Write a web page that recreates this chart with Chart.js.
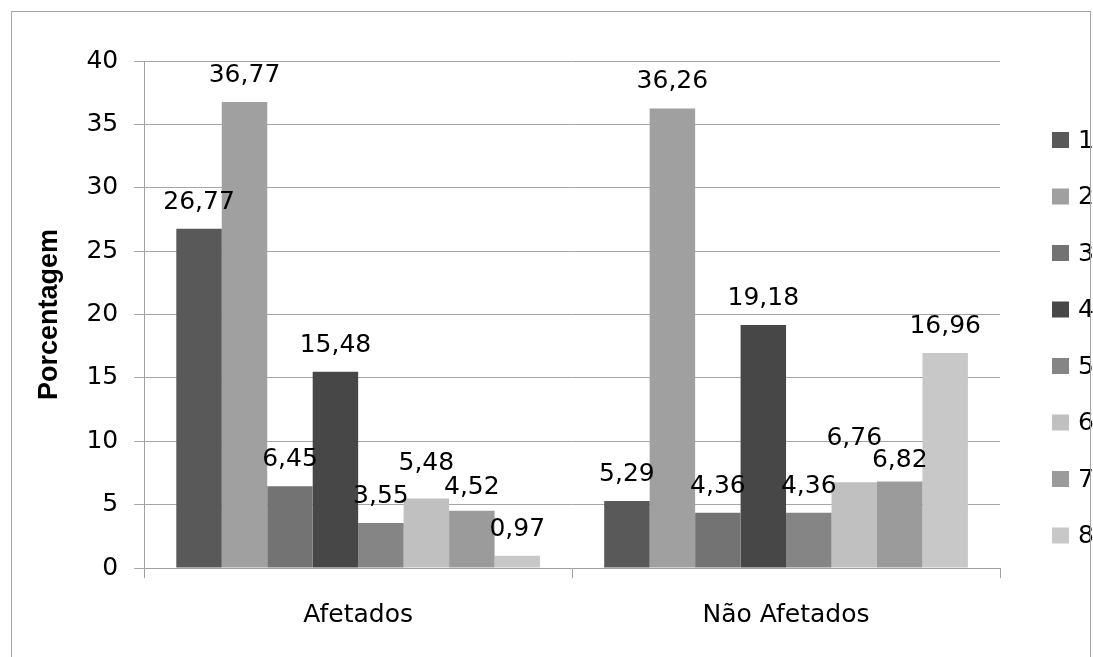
<!DOCTYPE html>
<html>
<head>
<meta charset="utf-8">
<title>Porcentagem por grupo</title>
<script src="https://cdn.jsdelivr.net/npm/chart.js@4.4.1/dist/chart.umd.min.js"></script>
<style>
  html, body { margin: 0; padding: 0; background: #fff; overflow: hidden; }
  #wrap { position: absolute; left: 0; top: 0; width: 1093px; height: 657px; }
  #frame { position: absolute; left: 11px; top: 11px; width: 1078px; height: 700px;
           border: 1px solid #a6a6a6; pointer-events: none; }
</style>
</head>
<body>
<div id="wrap"><canvas id="grafico" width="1093" height="657"></canvas></div>
<div id="frame"></div>
<script>
const grupos = ['Afetados', 'Não Afetados'];
const nomesSeries = ['1', '2', '3', '4', '5', '6', '7', '8'];

const serie1 = [26.77, 5.29];
const serie2 = [36.77, 36.26];
const serie3 = [6.45, 4.36];
const serie4 = [15.48, 19.18];
const serie5 = [3.55, 4.36];
const serie6 = [5.48, 6.76];
const serie7 = [4.52, 6.82];
const serie8 = [0.97, 16.96];

const yMin = 0;
const yMax = 40;
const yPasso = 5;

const cores = ['#595959', '#a0a0a0', '#737373', '#474747', '#858585', '#c0c0c0', '#9b9b9b', '#c8c8c8'];
const valores = [serie1, serie2, serie3, serie4, serie5, serie6, serie7, serie8];

const fonte = '"DejaVu Sans", Verdana, sans-serif';
Chart.defaults.font.family = fonte;
Chart.defaults.color = '#000';

// rótulos de valor acima de cada barra, com vírgula decimal;
// quando dois vizinhos se sobrepõem, o da esquerda sobe e o da direita desce
const rotulosValor = {
  id: 'rotulosValor',
  afterDatasetsDraw(chart) {
    const ctx = chart.ctx;
    const altura = 20, folga = 4, distancia = 20;
    ctx.save();
    ctx.font = '25px ' + fonte;
    ctx.fillStyle = '#000';
    ctx.textAlign = 'center';
    ctx.textBaseline = 'alphabetic';
    chart.data.labels.forEach((_, j) => {
      const rot = chart.data.datasets.map((ds, i) => {
        const barra = chart.getDatasetMeta(i).data[j];
        const txt = ds.data[j].toFixed(2).replace('.', ',');
        return { txt, x: barra.x, y: barra.y - distancia, w: ctx.measureText(txt).width };
      });
      for (let k = 1; k < rot.length; k++) {
        const a = rot[k - 1], b = rot[k];
        const sobreX = (a.x + a.w / 2) > (b.x - b.w / 2);
        const dy = Math.abs(a.y - b.y);
        if (sobreX && dy < altura + folga) {
          const falta = altura + folga - dy;
          a.y -= falta * 0.75;
          b.y += falta * 0.25;
        }
      }
      rot.forEach(r => ctx.fillText(r.txt, r.x, r.y));
    });
    ctx.restore();
  }
};

// legenda vertical à direita
const legendaLateral = {
  id: 'legendaLateral',
  afterDraw(chart) {
    const ctx = chart.ctx;
    const x0 = 1052, y0 = 140, passo = 56.5, lado = 16;
    ctx.save();
    ctx.font = '25px ' + fonte;
    ctx.textBaseline = 'middle';
    ctx.textAlign = 'left';
    chart.data.datasets.forEach((ds, i) => {
      const y = y0 + i * passo;
      ctx.fillStyle = ds.backgroundColor;
      ctx.fillRect(x0, y - lado / 2, lado + 1, lado);
      ctx.fillStyle = '#000';
      ctx.fillText(ds.label, x0 + 26, y + 1);
    });
    ctx.restore();
  }
};

new Chart(document.getElementById('grafico'), {
  type: 'bar',
  data: {
    labels: grupos,
    datasets: nomesSeries.map((nome, i) => ({
      label: nome,
      data: valores[i],
      backgroundColor: cores[i],
      borderWidth: 0,
      barPercentage: 1,
      categoryPercentage: 0.85
    }))
  },
  options: {
    responsive: false,
    animation: false,
    layout: { padding: { left: 31, right: 93, top: 61, bottom: 5 } },
    plugins: {
      legend: { display: false },
      tooltip: { enabled: false }
    },
    scales: {
      x: {
        grid: { display: true, drawOnChartArea: false, offset: true, tickLength: 10, color: '#a0a0a0' },
        border: { display: true, color: '#a0a0a0' },
        ticks: { font: { size: 25 }, padding: 22 }
      },
      y: {
        min: yMin,
        max: yMax,
        ticks: { stepSize: yPasso, font: { size: 25 }, padding: 16 },
        grid: { color: '#a6a6a6', tickLength: 10 },
        border: { display: true, color: '#a0a0a0' },
        title: {
          display: true,
          text: 'Porcentagem',
          font: { size: 27, weight: 'bold', family: '"Liberation Sans", Arial, sans-serif' },
          padding: { top: 2, bottom: 5 }
        }
      }
    }
  },
  plugins: [rotulosValor, legendaLateral]
});
</script>
</body>
</html>
